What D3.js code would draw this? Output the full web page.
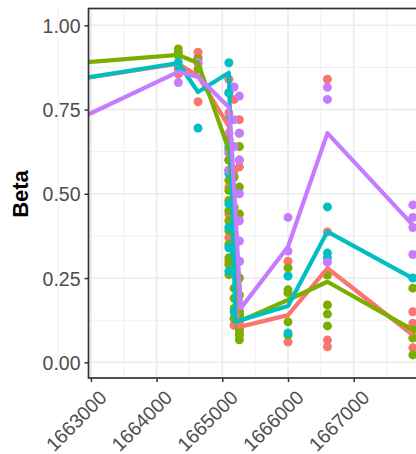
<!DOCTYPE html>
<html><head><meta charset="utf-8">
<script src="https://cdn.jsdelivr.net/npm/d3@7"></script>
<style>body{margin:0;background:#fff;}svg{display:block;font-family:"Liberation Sans",Arial,sans-serif;}</style>
</head><body>
<script>
// ---- data ----
const groups = ["A", "B", "C", "D"];
const colors = ["#F8766D", "#7CAE00", "#00BFC4", "#C77CFF"];
const xTicks = [1663000, 1664000, 1665000, 1666000, 1667000];
const xMinor = [1662500, 1663500, 1664500, 1665500, 1666500, 1667500];
const yTicks = [0, 0.25, 0.5, 0.75, 1.0];
const yMinor = [0.125, 0.375, 0.625, 0.875];
const yTickLabels = ["0.00", "0.25", "0.50", "0.75", "1.00"];
const clusterX = [1664330, 1664630, 1665100, 1665180, 1665260, 1666000, 1666600, 1667900];

const pointsA = [[0.87,0.855],[0.92,0.905,0.885,0.773],[0.84,0.80,0.74,0.66,0.60,0.52,0.44,0.37,0.30],[0.78,0.57,0.41,0.13,0.11],[0.72,0.58,0.12,0.105,0.095,0.085],[0.30,0.06],[0.84,0.387,0.066,0.046],[0.15,0.116,0.043]];
const pointsB = [[0.93,0.92,0.91],[0.90,0.87],[0.66,0.63,0.60,0.57,0.54,0.51,0.48,0.45,0.42,0.39,0.35,0.31,0.29,0.26],[0.55,0.46,0.38,0.22,0.19,0.16,0.13],[0.68,0.64,0.60,0.52,0.44,0.30,0.25,0.20,0.15,0.10,0.08,0.067],[0.28,0.215,0.206,0.12,0.081],[0.259,0.17,0.143,0.108],[0.22,0.096,0.072,0.022]];
const pointsC = [[0.89,0.88],[0.695],[0.889,0.80,0.72,0.64,0.56,0.47,0.40,0.34,0.27],[0.50,0.32,0.15],[0.14],[0.256,0.087],[0.461,0.324,0.31],[0.25]];
const pointsD = [[0.83],[0.89],[0.68,0.62,0.57],[0.817,0.72,0.64],[0.79,0.68,0.60,0.50,0.42,0.36,0.30],[0.43,0.33],[0.816,0.78,0.297],[0.467,0.43,0.40,0.32]];

const lineAx = [1662000, 1664330, 1664630, 1665100, 1665260, 1666000, 1666600, 1667900];
const lineAy = [0.816, 0.886, 0.85, 0.70, 0.105, 0.14, 0.279, 0.081];
const lineBx = [1662000, 1664330, 1664630, 1665100, 1665300, 1666000, 1666600, 1667900];
const lineBy = [0.876, 0.912, 0.888, 0.63, 0.125, 0.185, 0.239, 0.096];
const lineCx = [1662000, 1664330, 1664630, 1665100, 1665200, 1666000, 1666600, 1667900];
const lineCy = [0.816, 0.888, 0.802, 0.859, 0.12, 0.167, 0.388, 0.249];
const lineDx = [1662000, 1664330, 1664630, 1665100, 1665150, 1665280, 1666000, 1666600, 1667900];
const lineDy = [0.6465, 0.862, 0.847, 0.757, 0.62, 0.16, 0.343, 0.68, 0.407];

// ---- chart ----
const W = 416, H = 454;
const pL = 88.5, pR = 440, pT = 8.5, pB = 378;
const x = d3.scaleLinear()
  .domain([1663000 + (pL - 90.9) / 0.0657, 1663000 + (pR - 90.9) / 0.0657])
  .range([pL, pR]);
const y = d3.scaleLinear().domain([(362.3 - pB) / 337, (362.3 - pT) / 337]).range([pB, pT]);

const svg = d3.select("body").append("svg").attr("width", W).attr("height", H);
svg.append("defs").append("clipPath").attr("id", "clip")
  .append("rect").attr("x", pL).attr("y", pT).attr("width", pR - pL).attr("height", pB - pT);

const grid = svg.append("g");
grid.selectAll(".ym").data(yMinor).join("line")
  .attr("x1", pL).attr("x2", pR).attr("y1", d => y(d)).attr("y2", d => y(d))
  .attr("stroke", "#ebebeb").attr("stroke-width", 0.8);
grid.selectAll(".xm").data(xMinor).join("line")
  .attr("y1", pT).attr("y2", pB).attr("x1", d => x(d)).attr("x2", d => x(d))
  .attr("stroke", "#ebebeb").attr("stroke-width", 0.8);
grid.selectAll(".yM").data(yTicks).join("line")
  .attr("x1", pL).attr("x2", pR).attr("y1", d => y(d)).attr("y2", d => y(d))
  .attr("stroke", "#ebebeb").attr("stroke-width", 1.6);
grid.selectAll(".xM").data(xTicks).join("line")
  .attr("y1", pT).attr("y2", pB).attr("x1", d => x(d)).attr("x2", d => x(d))
  .attr("stroke", "#ebebeb").attr("stroke-width", 1.6);

const plot = svg.append("g").attr("clip-path", "url(#clip)");
const allPoints = [pointsA, pointsB, pointsC, pointsD];
allPoints.forEach((ps, gi) => {
  const flat = [];
  ps.forEach((vals, ci) => vals.forEach(v => flat.push([clusterX[ci], v])));
  plot.append("g").selectAll("circle").data(flat).join("circle")
    .attr("cx", d => x(d[0])).attr("cy", d => y(d[1])).attr("r", 4.5)
    .attr("fill", colors[gi]);
});
const lines = [[lineAx, lineAy], [lineBx, lineBy], [lineCx, lineCy], [lineDx, lineDy]];
const lineGen = d3.line().x(d => x(d[0])).y(d => y(d[1]));
lines.forEach((l, gi) => {
  const data = l[0].map((xv, i) => [xv, l[1][i]]);
  plot.append("path").datum(data).attr("d", lineGen)
    .attr("fill", "none").attr("stroke", colors[gi]).attr("stroke-width", 4.2)
    .attr("stroke-linejoin", "round");
});

// panel border
svg.append("rect").attr("x", pL).attr("y", pT).attr("width", pR - pL).attr("height", pB - pT)
  .attr("fill", "none").attr("stroke", "#333333").attr("stroke-width", 1.7);

// axes
const yAxis = svg.append("g").attr("transform", `translate(${pL},0)`)
  .call(d3.axisLeft(y).tickValues(yTicks).tickFormat((d, i) => yTickLabels[i]).tickSize(4).tickPadding(4));
yAxis.select(".domain").remove();
yAxis.selectAll(".tick line").attr("stroke", "#333333").attr("stroke-width", 1.5);
yAxis.selectAll(".tick text").attr("fill", "#4d4d4d").style("font-size", "19.5px")
  .attr("font-family", "Liberation Sans, Arial, sans-serif").attr("dy", "0.36em");

const xAxis = svg.append("g").attr("transform", `translate(0,${pB})`)
  .call(d3.axisBottom(x).tickValues(xTicks).tickFormat(d3.format("d")).tickSize(4));
xAxis.select(".domain").remove();
xAxis.selectAll(".tick line").attr("stroke", "#333333").attr("stroke-width", 1.5);
xAxis.selectAll(".tick text").attr("fill", "#4d4d4d").style("font-size", "19.5px")
  .attr("font-family", "Liberation Sans, Arial, sans-serif")
  .attr("text-anchor", "end").attr("x", 0).attr("y", 0).attr("dy", "0.72em")
  .attr("transform", "translate(6.5,11) rotate(-45)");

svg.append("text").attr("transform", `translate(28,194) rotate(-90)`)
  .attr("text-anchor", "middle").attr("font-weight", "bold").attr("font-size", "22px")
  .attr("fill", "#000").text("Beta");
</script>
</body></html>
